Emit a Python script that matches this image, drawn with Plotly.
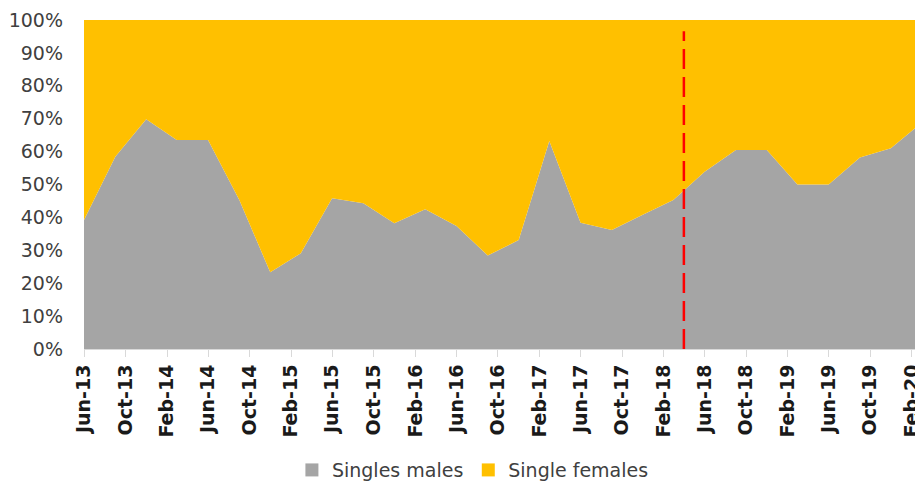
import plotly.graph_objects as go

# Quarterly observations (share of each group, %)
dates = [
    "2013-06-01", "2013-09-01", "2013-12-01", "2014-03-01", "2014-06-01", "2014-09-01",
    "2014-12-01", "2015-03-01", "2015-06-01", "2015-09-01", "2015-12-01", "2016-03-01",
    "2016-06-01", "2016-09-01", "2016-12-01", "2017-03-01", "2017-06-01", "2017-09-01",
    "2017-12-01", "2018-03-01", "2018-06-01", "2018-09-01", "2018-12-01", "2019-03-01",
    "2019-06-01", "2019-09-01", "2019-12-01", "2020-03-01",
]
singles_males = [
    39.2, 58.4, 69.8, 63.5, 63.5, 45.3,
    23.3, 29.1, 45.8, 44.3, 38.2, 42.5,
    37.4, 28.4, 33.1, 63.2, 38.4, 36.2,
    40.8, 45.3, 53.9, 60.5, 60.5, 50.0,
    50.0, 58.2, 61.0, 68.8,
]
single_females = [
    60.8, 41.6, 30.2, 36.5, 36.5, 54.7,
    76.7, 70.9, 54.2, 55.7, 61.8, 57.5,
    62.6, 71.6, 66.9, 36.8, 61.6, 63.8,
    59.2, 54.7, 46.1, 39.5, 39.5, 50.0,
    50.0, 41.8, 39.0, 31.2,
]
series_names = ["Singles males", "Single females"]
series_colors = ["#A5A5A5", "#FFC000"]

# Vertical marker (red dashed line)
marker_date = "2018-04-01"
marker_top = 96.6

x_start = "2013-06-01"
x_end = "2020-02-10"

FONT = "DejaVu Sans"

fig = go.Figure()
for name, vals, col in zip(series_names, [singles_males, single_females], series_colors):
    fig.add_trace(go.Scatter(
        x=dates, y=vals, name=name, mode="lines",
        stackgroup="one", groupnorm="percent",
        line=dict(width=0, color=col), fillcolor=col,
        showlegend=False, hoverinfo="skip",
    ))

# legend entries (square swatches)
for name, col in zip(series_names, series_colors):
    fig.add_trace(go.Scatter(
        x=[None], y=[None], mode="markers", name=name,
        marker=dict(symbol="square", size=13, color=col),
        showlegend=True,
    ))

fig.add_shape(
    type="line", xref="x", yref="y",
    x0=marker_date, x1=marker_date, y0=0, y1=marker_top,
    line=dict(color="#FF0000", width=2.5, dash="20px,8px"),
    layer="above",
)

fig.update_layout(
    width=915, height=485,
    margin=dict(l=84, r=0, t=20, b=136, autoexpand=False),
    paper_bgcolor="white", plot_bgcolor="white",
    font=dict(family=FONT, size=18, color="#404040"),
    showlegend=True,
    legend=dict(
        orientation="h", x=0.468, xanchor="center", y=-0.368, yanchor="middle",
        font=dict(family=FONT, size=19, color="#404040"),
        itemwidth=30, tracegroupgap=0, traceorder="normal",
    ),
    xaxis=dict(
        type="date", range=[x_start, x_end], automargin=False,
        tick0="2013-06-01", dtick="M4", tickformat="%b-%y",
        tickangle=-90, ticks="outside", ticklen=7, tickcolor="#D9D9D9",
        showline=True, linecolor="#D9D9D9", linewidth=1,
        showgrid=False, zeroline=False, ticklabeloverflow="allow",
        tickfont=dict(family=FONT, size=19, color="#1A1A1A", weight="bold"),
    ),
    yaxis=dict(
        range=[0, 100], dtick=10, ticksuffix="%", automargin=False,
        showgrid=False, zeroline=False, showline=False,
        ticks="", ticklabelstandoff=20,
        tickfont=dict(family=FONT, size=19, color="#404040"),
    ),
)

fig.write_html(
    "out.html",
    config={"displayModeBar": False},
    post_script="document.body.style.margin='0';document.body.style.overflow='hidden';",
)
